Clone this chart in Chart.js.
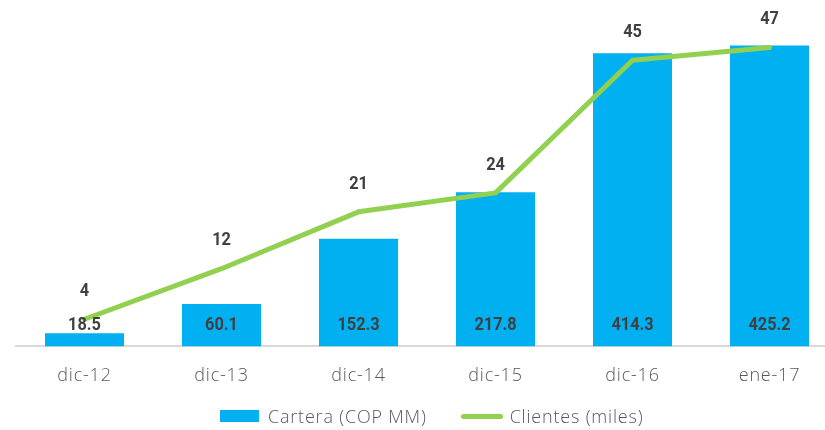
<!DOCTYPE html>
<html>
<head>
<meta charset="utf-8">
<script src="https://cdn.jsdelivr.net/npm/chart.js@4/dist/chart.umd.min.js"></script>
<style>
    body { margin: 0; background: #fff; overflow: hidden; }
    #wrap { position: relative; width: 838px; height: 430px; }
    #legend {
        position: absolute; left: 220px; top: 404px;
        display: flex; align-items: center;
        font-family: 'Open Sans', Lato, sans-serif; font-weight: 300; font-size: 18px;
        letter-spacing: 0.8px; color: #595959;
    }
    .item { display: flex; align-items: center; margin-right: 34px; }
    .swatch { width: 39px; height: 12px; margin-right: 9px; }
    .swatch.line { width: 42px; height: 5px; border-radius: 3px; margin-right: 7px; }
</style>
</head>
<body>
<div id="wrap">
    <canvas id="carteraChart"></canvas>
    <div id="legend"></div>
</div>
<script>
// Data
const categories = ['dic-12', 'dic-13', 'dic-14', 'dic-15', 'dic-16', 'ene-17'];
const carteraValues = [18.5, 60.1, 152.3, 217.8, 414.3, 425.2];
const clientesValues = [4, 12, 21, 24, 45, 47];
const carteraLabels = ['18.5', '60.1', '152.3', '217.8', '414.3', '425.2'];
const clientesLabels = ['4', '12', '21', '24', '45', '47'];

const BLUE = '#00B0F0';
const GREEN = '#92D050';
const LABEL_FONT = "bold 19px Roboto, sans-serif";

// text is squeezed a bit to look like a narrow font
function drawNarrow(ctx, text, x, y) {
    ctx.save();
    ctx.translate(x, y);
    ctx.scale(0.86, 1);
    ctx.fillText(text, 0, 0);
    ctx.restore();
}

// Wider spacing for the axis text (the original uses a wide font)
const tickSpacing = {
    id: 'tickSpacing',
    beforeDraw(chart) { chart.ctx.letterSpacing = '0.8px'; },
    afterDraw(chart) { chart.ctx.letterSpacing = '0px'; }
};

// Draws the value labels (bars: near the base, line: above the point)
const valueLabels = {
    id: 'valueLabels',
    afterDatasetsDraw(chart) {
        const ctx = chart.ctx;
        const base = chart.scales.y.getPixelForValue(0);
        ctx.save();
        ctx.letterSpacing = '0px';
        ctx.font = LABEL_FONT;
        ctx.fillStyle = '#404040';
        ctx.textAlign = 'center';
        ctx.textBaseline = 'middle';

        chart.getDatasetMeta(0).data.forEach((bar, i) => {
            drawNarrow(ctx, carteraLabels[i], bar.x, base - 21);
        });
        chart.getDatasetMeta(1).data.forEach((pt, i) => {
            drawNarrow(ctx, clientesLabels[i], pt.x, pt.y - 28);
        });
        ctx.restore();
    }
};

// Simple html legend built from the datasets
function buildLegend(chart) {
    const box = document.getElementById('legend');
    box.innerHTML = '';
    chart.data.datasets.forEach(ds => {
        const item = document.createElement('div');
        item.className = 'item';
        const sw = document.createElement('span');
        sw.className = ds.type === 'line' ? 'swatch line' : 'swatch';
        sw.style.background = ds.type === 'line' ? ds.borderColor : ds.backgroundColor;
        const txt = document.createElement('span');
        txt.textContent = ds.label;
        item.appendChild(sw);
        item.appendChild(txt);
        box.appendChild(item);
    });
}

const chart = new Chart(document.getElementById('carteraChart'), {
    type: 'bar',
    data: {
        labels: categories,
        datasets: [
            {
                type: 'bar',
                label: 'Cartera (COP MM)',
                data: carteraValues,
                backgroundColor: BLUE,
                yAxisID: 'y',
                categoryPercentage: 1,
                barPercentage: 0.577,
                order: 1
            },
            {
                type: 'line',
                label: 'Clientes (miles)',
                data: clientesValues,
                borderColor: GREEN,
                borderWidth: 5,
                borderCapStyle: 'round',
                borderJoinStyle: 'round',
                pointRadius: 0,
                tension: 0,
                yAxisID: 'y1',
                order: 0
            }
        ]
    },
    options: {
        responsive: true,
        maintainAspectRatio: false,
        animation: false,
        layout: { padding: { top: 28, left: 16, right: 0, bottom: 24 } },
        plugins: {
            legend: { display: false },
            tooltip: { enabled: false }
        },
        scales: {
            x: {
                grid: { display: false, drawTicks: false },
                border: { display: true, color: '#d9d9d9', width: 2 },
                ticks: {
                    padding: 19,
                    color: '#595959',
                    font: { family: "'Open Sans', Lato, sans-serif", size: 18, weight: 300 }
                }
            },
            y: { display: false, min: 0, max: 450 },
            y1: { display: false, min: -0.3, max: 50.1 }
        }
    },
    plugins: [tickSpacing, valueLabels]
});

buildLegend(chart);
</script>
</body>
</html>
